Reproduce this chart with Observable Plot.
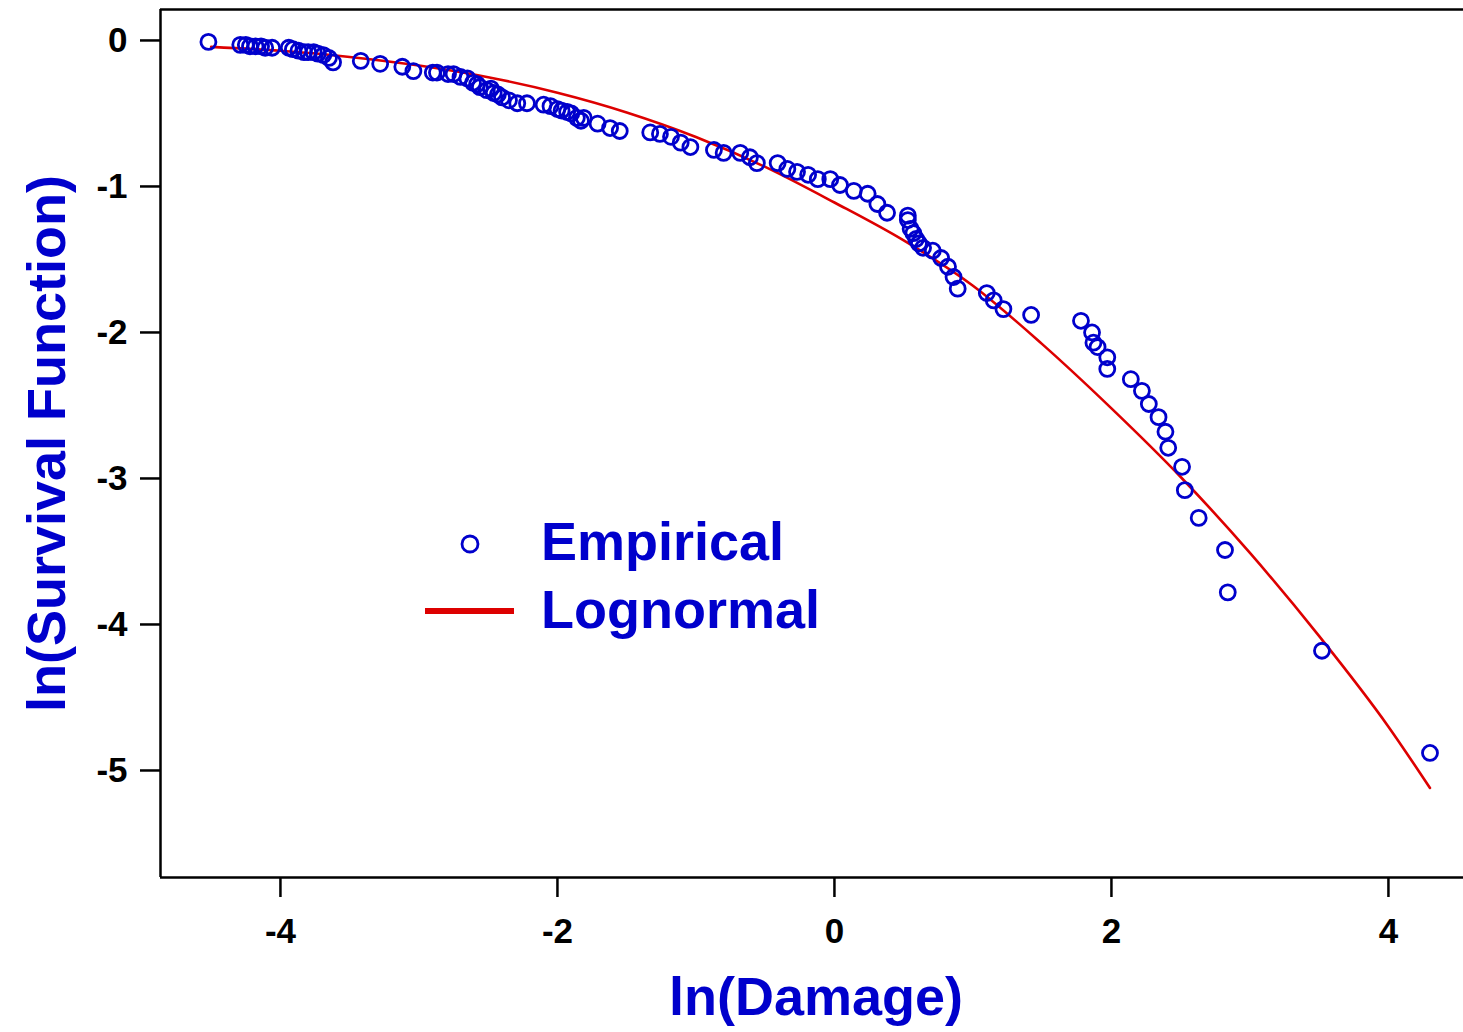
<!DOCTYPE html>
<html><head><meta charset="utf-8">
<script src="https://cdn.jsdelivr.net/npm/d3@7"></script>
<script src="https://cdn.jsdelivr.net/npm/@observablehq/plot@0.6"></script>
<style>
html,body{margin:0;padding:0;background:#fff;}
#wrap{position:relative;width:1463px;height:1032px;overflow:hidden;background:#fff;}
#legend{position:absolute;left:0;top:0;}
</style></head><body><div id="wrap"></div>
<script>
// Empirical points: ln(Damage), ln(Survival Function)
const empX = [-4.52,-4.29,-4.25,-4.22,-4.18,-4.14,-4.11,-4.06,-3.94,-3.91,-3.87,-3.83,-3.80,-3.76,-3.73,-3.69,-3.65,-3.62,
  -3.42,-3.28,-3.12,-3.04,-2.90,-2.87,-2.79,-2.75,-2.70,-2.65,-2.61,-2.58,-2.56,-2.51,-2.48,-2.46,-2.43,-2.40,-2.35,-2.29,-2.22,
  -2.10,-2.05,-2.00,-1.97,-1.93,-1.90,-1.86,-1.83,-1.81,-1.71,-1.62,-1.55,-1.33,-1.26,-1.18,-1.11,-1.04,-0.87,-0.80,-0.68,-0.61,-0.56,
  -0.41,-0.34,-0.27,-0.19,-0.12,-0.03,0.04,0.14,0.24,0.31,0.38,0.53,0.53,0.55,0.57,0.59,0.61,0.64,0.71,0.77,0.82,0.86,0.89,
  1.10,1.15,1.22,1.42,1.78,1.86,1.87,1.90,1.97,1.97,2.14,2.22,2.27,2.34,2.39,2.41,2.51,2.53,2.63,2.82,2.84,3.52,4.30];
const empY = [-0.01,-0.03,-0.03,-0.04,-0.04,-0.04,-0.05,-0.05,-0.05,-0.06,-0.07,-0.08,-0.08,-0.08,-0.09,-0.10,-0.12,-0.15,
  -0.14,-0.16,-0.18,-0.21,-0.22,-0.22,-0.23,-0.23,-0.25,-0.26,-0.29,-0.30,-0.32,-0.34,-0.33,-0.36,-0.37,-0.39,-0.41,-0.43,-0.43,
  -0.44,-0.45,-0.47,-0.48,-0.49,-0.50,-0.53,-0.55,-0.53,-0.57,-0.60,-0.62,-0.63,-0.64,-0.66,-0.70,-0.73,-0.75,-0.77,-0.77,-0.80,-0.84,
  -0.84,-0.88,-0.90,-0.92,-0.95,-0.95,-0.99,-1.03,-1.05,-1.12,-1.18,-1.20,-1.23,-1.29,-1.32,-1.36,-1.39,-1.42,-1.44,-1.49,-1.55,-1.62,-1.70,
  -1.73,-1.78,-1.84,-1.88,-1.92,-2.00,-2.07,-2.10,-2.17,-2.25,-2.32,-2.40,-2.49,-2.58,-2.68,-2.79,-2.92,-3.08,-3.27,-3.49,-3.78,-4.18,-4.88];

// Fitted lognormal curve
const fitX = [-4.5,-4.0,-3.5,-3.0,-2.5,-2.0,-1.5,-1.0,-0.5,0.0,0.5,1.0,1.5,2.0,2.5,3.0,3.5,4.0,4.3];
const fitY = [-0.044,-0.071,-0.113,-0.172,-0.252,-0.358,-0.493,-0.661,-0.866,-1.11,-1.37,-1.68,-2.08,-2.52,-2.99,-3.51,-4.08,-4.70,-5.12];

const xTicks = [-4,-2,0,2,4];
const yTicks = [0,-1,-2,-3,-4,-5];
const seriesNames = ["Empirical","Lognormal"];
const xTitle = "ln(Damage)";
const yTitle = "ln(Survival Function)";

const empirical = empX.map((x,i)=>({x, y: empY[i]}));
const fitted = fitX.map((x,i)=>({x, y: fitY[i]}));

const xDomain = [-4.866, 4.542];
const yDomain = [-5.733, 0.212];
const BLUE = "#0000CC", RED = "#DD0000";
const FONT = "'Liberation Sans', Arial, sans-serif";
const fmt = d => String(d);

const chart = Plot.plot({
  width: 1463, height: 1032,
  marginLeft: 160, marginTop: 9, marginRight: 0, marginBottom: 155,
  style: {fontFamily: FONT, fontSize: "35px", fontWeight: "bold", color: "#000", background: "#fff", overflow: "visible"},
  x: {domain: xDomain},
  y: {domain: yDomain},
  marks: [
    Plot.axisX({ticks: xTicks, tickSize: 20, tickPadding: 21, strokeWidth: 2.5, tickFormat: fmt, label: null}),
    Plot.axisY({ticks: yTicks, tickSize: 20, tickPadding: 13, strokeWidth: 2.5, tickFormat: fmt, label: null}),
    Plot.ruleX([xDomain[0]], {stroke: "#000", strokeWidth: 2.5}),
    Plot.ruleY(yDomain, {stroke: "#000", strokeWidth: 2.5}),
    Plot.line(fitted, {x: "x", y: "y", stroke: RED, strokeWidth: 2.6, curve: "monotone-x"}),
    Plot.dot(empirical, {x: "x", y: "y", r: 7.5, stroke: BLUE, strokeWidth: 2.8, fill: "none"}),
    Plot.text([xTitle], {frameAnchor: "bottom", dx: 4, dy: 120, fontSize: 54, fontWeight: "bold", fill: BLUE, lineAnchor: "middle", textAnchor: "middle", text: d => d}),
    Plot.text([yTitle], {frameAnchor: "left", dx: -113, dy: 0, rotate: -90, fontSize: 54, fontWeight: "bold", fill: BLUE, lineAnchor: "middle", textAnchor: "middle", text: d => d})
  ]
});
const wrap = document.getElementById("wrap");
wrap.appendChild(chart);

// Legend overlay
const leg = d3.select(wrap).append("svg").attr("id","legend").attr("width",1463).attr("height",1032)
  .style("font-family", FONT).style("font-weight","bold");
leg.append("circle").attr("cx",470).attr("cy",544).attr("r",8).attr("fill","none").attr("stroke",BLUE).attr("stroke-width",2.8);
leg.append("line").attr("x1",425).attr("x2",514).attr("y1",611).attr("y2",611).attr("stroke",RED).attr("stroke-width",6);
leg.append("text").attr("x",541).attr("y",560).attr("font-size",54).attr("fill",BLUE).text(seriesNames[0]);
leg.append("text").attr("x",541).attr("y",628).attr("font-size",54).attr("fill",BLUE).text(seriesNames[1]);
</script></body></html>
